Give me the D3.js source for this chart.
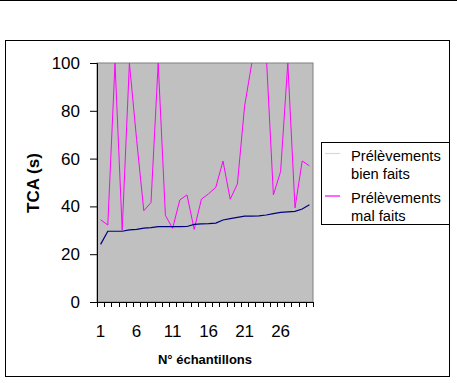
<!doctype html>
<html>
<head>
<meta charset="utf-8">
<title>TCA par échantillon</title>
<script src="https://cdnjs.cloudflare.com/ajax/libs/d3/7.8.5/d3.min.js"></script>
<style>
  body { margin: 0; background: #fff; }
  text { font-family: 'Liberation Sans', Arial, sans-serif; }
</style>
</head>
<body>
<div id="chart"></div>
<script>
// data (values above 100 are cut by the plot frame)
const samples = d3.range(1, 31);
const tickLabels = [1, 6, 11, 16, 21, 26];
const yTicks = [0, 20, 40, 60, 80, 100];
const seriesNames = ['Prélèvements bien faits', 'Prélèvements mal faits'];
const bienFaits = [24.1, 29.6, 29.6, 29.6, 30.2, 30.4, 30.9, 31.1, 31.5, 31.5,
                   31.5, 31.5, 31.6, 32.5, 32.7, 32.8, 33.0, 34.3, 34.9, 35.4,
                   35.9, 35.9, 36.0, 36.4, 37.0, 37.5, 37.7, 37.9, 38.9, 40.7];
const malFaits = [34.4, 32.2, 100, 30.1, 100, 68, 38.2, 41.6, 100, 36.3,
                  30.8, 42.7, 44.8, 30.4, 43, 45.3, 48, 59, 43, 49.4,
                  82, 100, 104, 104, 44.8, 54.6, 100, 39.4, 59, 57];

const W = 457, H = 383;
const svg = d3.select('#chart').append('svg')
  .attr('width', W).attr('height', H);

// page rule on top + outer frame
svg.append('line').attr('x1', 0).attr('x2', W).attr('y1', 0.5).attr('y2', 0.5)
  .attr('stroke', '#000').attr('stroke-width', 1);
svg.append('rect').attr('x', 5.5).attr('y', 40.5).attr('width', 444).attr('height', 336)
  .attr('fill', 'none').attr('stroke', '#000').attr('stroke-width', 1);

const pLeft = 97, pRight = 313, pTop = 63, pBottom = 302;

const x = d3.scaleBand().domain(samples).range([pLeft, pRight]).padding(0);
const y = d3.scaleLinear().domain([0, 100]).range([pBottom, pTop]);

// plot area
svg.append('rect')
  .attr('x', pLeft).attr('y', pTop)
  .attr('width', pRight - pLeft).attr('height', pBottom - pTop)
  .attr('fill', '#c0c0c0').attr('stroke', '#808080').attr('stroke-width', 1);

svg.append('clipPath').attr('id', 'clip')
  .append('rect').attr('x', pLeft).attr('y', pTop)
  .attr('width', pRight - pLeft).attr('height', pBottom - pTop);

// y axis
const yAxis = svg.append('g')
  .attr('transform', `translate(${pLeft},0)`)
  .call(d3.axisLeft(y).tickValues(yTicks).tickSize(7).tickPadding(10));
yAxis.select('.domain').attr('stroke', '#000');
yAxis.selectAll('.tick line').attr('stroke', '#000');
yAxis.selectAll('.tick text')
  .style('font-family', "'Liberation Sans', Arial, sans-serif")
  .style('font-size', '17px').attr('fill', '#000');

// x axis: ticks between categories, labels every 5
const boundaries = d3.range(samples.length + 1).map(i => pLeft + i * x.bandwidth());
const xg = svg.append('g');
xg.append('line').attr('x1', pLeft).attr('x2', pRight)
  .attr('y1', pBottom + 0.5).attr('y2', pBottom + 0.5).attr('stroke', '#000');
xg.selectAll('line.tk').data(boundaries).join('line').attr('class', 'tk')
  .attr('x1', d => Math.round(d) + 0.5).attr('x2', d => Math.round(d) + 0.5)
  .attr('y1', pBottom).attr('y2', pBottom + 5).attr('stroke', '#000');
xg.selectAll('text').data(tickLabels).join('text')
  .attr('x', d => x(d) + x.bandwidth() / 2)
  .attr('y', 337)
  .attr('text-anchor', 'middle')
  .style('font-size', '17px')
  .text(d => d);

// series
const line = d3.line()
  .x((d, i) => x(samples[i]) + x.bandwidth() / 2)
  .y(d => y(d));

const plot = svg.append('g').attr('clip-path', 'url(#clip)');
plot.append('path').datum(malFaits)
  .attr('d', line).attr('fill', 'none')
  .attr('stroke', '#ff00ff').attr('stroke-width', 1);
plot.append('path').datum(bienFaits)
  .attr('d', line).attr('fill', 'none')
  .attr('stroke', '#000080').attr('stroke-width', 1.2);

// axis titles
svg.append('text')
  .attr('x', 205).attr('y', 364)
  .attr('text-anchor', 'middle')
  .style('font-size', '13px').style('font-weight', 'bold')
  .text('N° échantillons');
svg.append('text')
  .attr('transform', 'translate(39,183) rotate(-90)')
  .attr('text-anchor', 'middle')
  .style('font-size', '17px').style('font-weight', 'bold')
  .text('TCA (s)');

// legend
const legend = svg.append('g');
legend.append('rect')
  .attr('x', 321.5).attr('y', 142.5).attr('width', 128).attr('height', 82)
  .attr('fill', '#fff').attr('stroke', '#000');
const swatchColors = ['#ddd0ee', '#ff00ff'];
const items = legend.selectAll('g.item').data(seriesNames).join('g')
  .attr('class', 'item')
  .attr('transform', (d, i) => `translate(0,${153.5 + i * 42.5})`);
items.append('line')
  .attr('x1', 325).attr('x2', 340).attr('y1', 0).attr('y2', 0)
  .attr('stroke', (d, i) => swatchColors[i]).attr('stroke-width', 1.2);
items.append('text')
  .attr('x', 351).attr('y', 7)
  .style('font-size', '14.7px')
  .text(d => d.split(' ')[0]);
items.append('text')
  .attr('x', 351).attr('y', 25)
  .style('font-size', '14.7px')
  .text(d => d.split(' ').slice(1).join(' '));
</script>
</body>
</html>
